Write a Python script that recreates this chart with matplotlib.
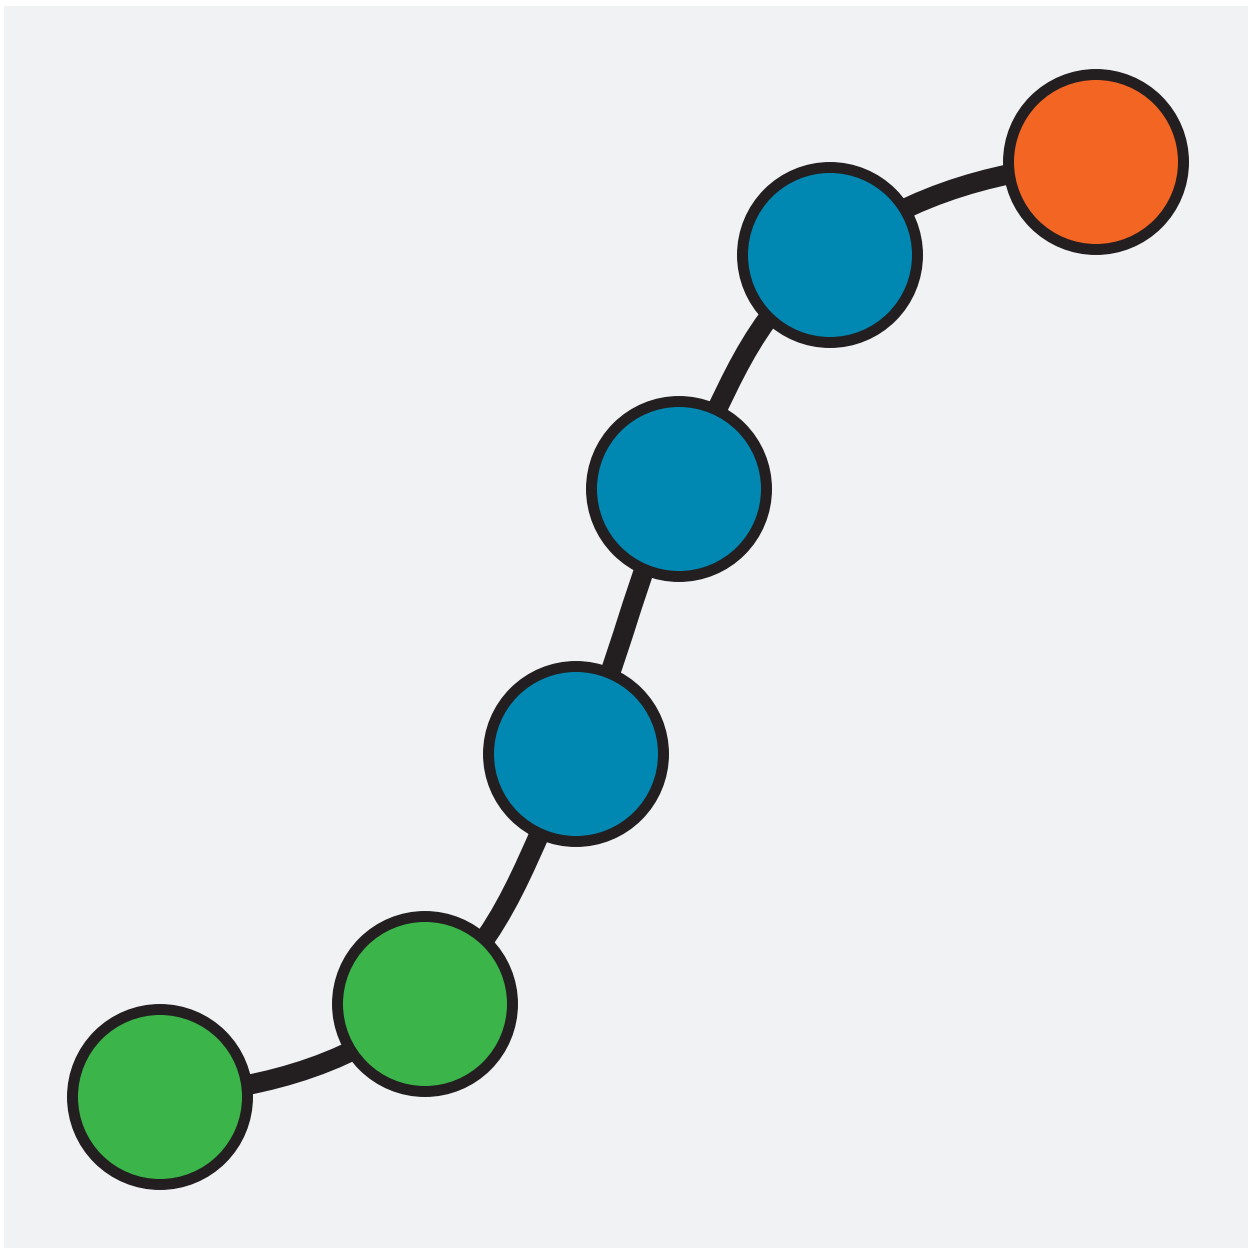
import numpy as np
import matplotlib
matplotlib.use("Agg")
import matplotlib.pyplot as plt
from matplotlib.path import Path
from matplotlib.patches import PathPatch, Rectangle

# Data: node positions (in canvas units, y upward) and their colours
node_x = [160, 425, 576, 679, 830, 1096]
node_y = [152, 245, 495, 760, 994, 1087]
node_colors = ["#3bb54a", "#3bb54a", "#0088b3", "#0088b3", "#0088b3", "#f26522"]

W, H = 1248, 1249
DPI = 100
fig = plt.figure(figsize=(W / DPI, H / DPI), dpi=DPI)
fig.patch.set_facecolor("white")
ax = fig.add_axes([0, 0, 1, 1])
ax.set_xlim(0, W)
ax.set_ylim(0, H)
ax.axis("off")

# light grey panel
ax.add_patch(Rectangle((4, 1), W - 4, H - 7, facecolor="#f1f2f4", edgecolor="none", zorder=0))

# smooth connector: cardinal spline through the nodes, drawn as cubic Bezier segments
P = np.column_stack([node_x, node_y]).astype(float)
n = len(P)
tension = 0.6
T = np.zeros_like(P)
for i in range(1, n - 1):
    T[i] = tension * (P[i + 1] - P[i - 1])
T[0] = np.array([265.0, 24.0])
T[-1] = np.array([265.0, 22.0])
verts = [tuple(P[0])]
codes = [Path.MOVETO]
for i in range(n - 1):
    verts += [tuple(P[i] + T[i] / 3), tuple(P[i + 1] - T[i + 1] / 3), tuple(P[i + 1])]
    codes += [Path.CURVE4] * 3
ax.add_patch(PathPatch(Path(verts, codes), facecolor="none", edgecolor="#231f20",
                       lw=14.5, capstyle="butt", joinstyle="round", zorder=1))

# nodes
ax.scatter(node_x, node_y, s=126 ** 2, c=node_colors, edgecolors="#231f20",
           linewidths=7.9, zorder=2)

fig.savefig("out.png", dpi=DPI, facecolor="white")
